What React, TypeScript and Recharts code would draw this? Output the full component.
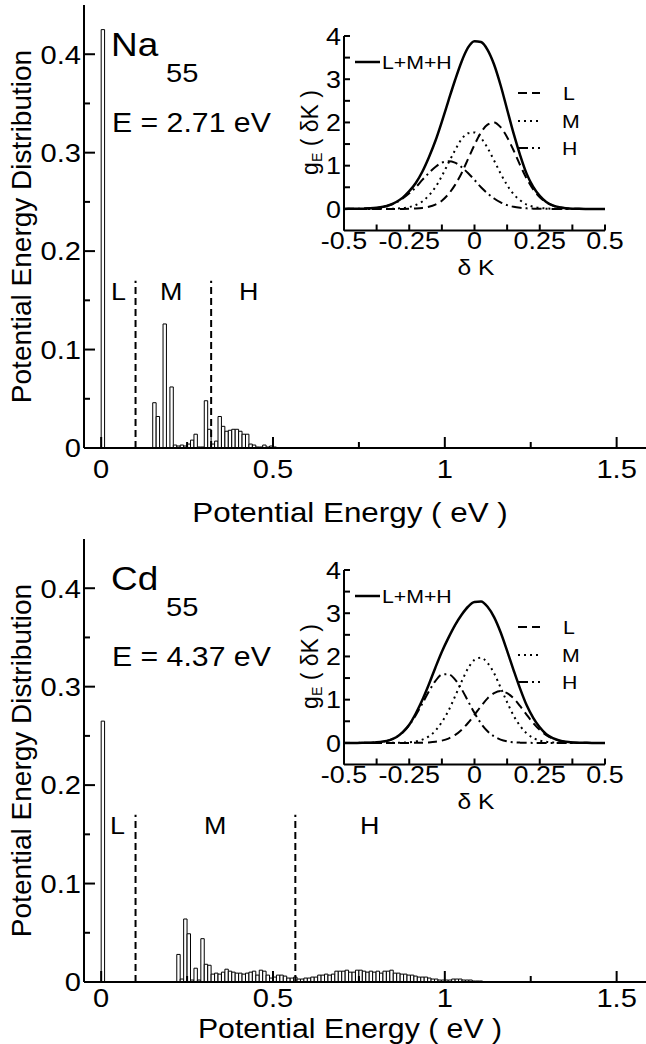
import React from 'react';
import { ComposedChart, LineChart, Bar, Line, XAxis, YAxis, ReferenceLine, Legend } from 'recharts';

const FONT = '"Liberation Sans", Arial, Helvetica, sans-serif';
const SX = 1.12; // the printed figure is stretched sideways a little

// Na55 histogram: bin centres (eV) and heights
const naEnergy = [0.005, 0.155, 0.165, 0.175, 0.185, 0.195, 0.205, 0.215, 0.225, 0.235, 0.245, 0.255, 0.265, 0.275, 0.285, 0.295, 0.305, 0.315, 0.325, 0.335, 0.345, 0.355, 0.365, 0.375, 0.385, 0.395, 0.405, 0.415, 0.425, 0.435, 0.445, 0.455, 0.465, 0.475, 0.485, 0.495, 0.505];
const naDist = [0.425, 0.046, 0.032, 0, 0.126, 0, 0.062, 0.003, 0.002, 0.003, 0.002, 0.004, 0.008, 0.014, 0.001, 0.001, 0.048, 0.019, 0.004, 0.007, 0.032, 0.022, 0.017, 0.018, 0.019, 0.019, 0.017, 0.014, 0.014, 0.004, 0.003, 0.001, 0.001, 0.003, 0.001, 0.002, 0.001];

// Cd55 histogram
const cdEnergy = [0.005,
  0.225, 0.235, 0.245, 0.255, 0.265, 0.275, 0.285, 0.295, 0.305, 0.315,
  0.325, 0.335, 0.345, 0.355, 0.365, 0.375, 0.385, 0.395, 0.405, 0.415,
  0.425, 0.435, 0.445, 0.455, 0.465, 0.475, 0.485, 0.495, 0.505, 0.515,
  0.525, 0.535, 0.545, 0.555, 0.565, 0.575, 0.585, 0.595, 0.605, 0.615,
  0.625, 0.635, 0.645, 0.655, 0.665, 0.675, 0.685, 0.695, 0.705, 0.715,
  0.725, 0.735, 0.745, 0.755, 0.765, 0.775, 0.785, 0.795, 0.805, 0.815,
  0.825, 0.835, 0.845, 0.855, 0.865, 0.875, 0.885, 0.895, 0.905, 0.915,
  0.925, 0.935, 0.945, 0.955, 0.965, 0.975, 0.985, 0.995, 1.005, 1.015,
  1.025, 1.035, 1.045, 1.055, 1.065, 1.075, 1.085, 1.095, 1.105];
const cdDist = [0.265,
  0.028, 0.003, 0.064, 0.049, 0.002, 0.014, 0.002, 0.044, 0.018, 0.017,
  0.008, 0.009, 0.008, 0.010, 0.013, 0.011, 0.010, 0.009, 0.009, 0.008,
  0.009, 0.010, 0.011, 0.007, 0.012, 0.011, 0.007, 0.004, 0.005, 0.007,
  0.007, 0.006, 0.004, 0.004, 0.005, 0.003, 0.003, 0.004, 0.004, 0.005,
  0.005, 0.007, 0.007, 0.008, 0.007, 0.008, 0.011, 0.011, 0.011, 0.012,
  0.010, 0.010, 0.012, 0.012, 0.011, 0.010, 0.011, 0.010, 0.011, 0.009,
  0.011, 0.011, 0.012, 0.009, 0.009, 0.008, 0.008, 0.007, 0.007, 0.006,
  0.005, 0.005, 0.005, 0.004, 0.003, 0.003, 0.002, 0.002, 0.002, 0.002,
  0.003, 0.003, 0.003, 0.002, 0.002, 0.002, 0.001, 0.001, 0.001];

// insets: g_E(dK)
const deltaK = [-0.5, -0.475, -0.45, -0.425, -0.4, -0.375, -0.35, -0.325, -0.3, -0.275, -0.25, -0.225, -0.2, -0.175, -0.15, -0.125, -0.1, -0.075, -0.05, -0.025, 0, 0.025, 0.05, 0.075, 0.1, 0.125, 0.15, 0.175, 0.2, 0.225, 0.25, 0.275, 0.3, 0.325, 0.35, 0.375, 0.4, 0.425, 0.45, 0.475, 0.5];

const naSum = [0, 0.001, 0.002, 0.006, 0.012, 0.025, 0.049, 0.091, 0.16, 0.26, 0.41, 0.6, 0.86, 1.19, 1.57, 2.02, 2.5, 2.97, 3.4, 3.73, 3.88, 3.86, 3.68, 3.34, 2.86, 2.3, 1.74, 1.24, 0.81, 0.51, 0.3, 0.16, 0.08, 0.037, 0.016, 0.006, 0.002, 0, 0, 0, 0];
const naL = [0, 0, 0, 0, 0, 0, 0, 0, 0, 0, 0.003, 0.009, 0.022, 0.049, 0.1, 0.19, 0.34, 0.55, 0.82, 1.15, 1.48, 1.77, 1.95, 2.0, 1.89, 1.66, 1.35, 1.01, 0.7, 0.45, 0.27, 0.15, 0.076, 0.036, 0.016, 0.006, 0.002, 0, 0, 0, 0];
const naM = [0, 0, 0, 0, 0, 0, 0.001, 0.003, 0.008, 0.019, 0.043, 0.09, 0.17, 0.31, 0.5, 0.76, 1.06, 1.35, 1.61, 1.75, 1.77, 1.64, 1.41, 1.12, 0.82, 0.55, 0.34, 0.2, 0.1, 0.05, 0.023, 0.009, 0.004, 0.001, 0, 0, 0, 0, 0, 0, 0];
const naH = [0, 0.001, 0.002, 0.006, 0.012, 0.025, 0.048, 0.088, 0.15, 0.24, 0.36, 0.5, 0.67, 0.83, 0.97, 1.07, 1.1, 1.07, 0.97, 0.83, 0.67, 0.5, 0.36, 0.24, 0.15, 0.088, 0.048, 0.025, 0.012, 0.006, 0.002, 0.001, 0, 0, 0, 0, 0, 0, 0, 0, 0];

const cdSum = [0, 0, 0, 0.002, 0.005, 0.012, 0.03, 0.065, 0.13, 0.25, 0.42, 0.68, 0.99, 1.35, 1.74, 2.11, 2.43, 2.72, 2.96, 3.15, 3.26, 3.27, 3.15, 2.91, 2.56, 2.13, 1.68, 1.25, 0.87, 0.58, 0.36, 0.2, 0.11, 0.057, 0.026, 0.011, 0.005, 0.002, 0, 0, 0];
const cdL = [0, 0, 0, 0, 0, 0, 0, 0, 0, 0, 0, 0.002, 0.005, 0.011, 0.025, 0.053, 0.1, 0.18, 0.3, 0.46, 0.65, 0.85, 1.03, 1.15, 1.2, 1.15, 1.03, 0.85, 0.65, 0.46, 0.3, 0.18, 0.1, 0.053, 0.025, 0.011, 0.005, 0.002, 0, 0, 0];
const cdM = [0, 0, 0, 0, 0, 0, 0, 0, 0.002, 0.006, 0.014, 0.034, 0.075, 0.15, 0.28, 0.48, 0.74, 1.07, 1.41, 1.72, 1.92, 1.97, 1.85, 1.61, 1.28, 0.94, 0.63, 0.39, 0.22, 0.115, 0.055, 0.024, 0.01, 0.004, 0.001, 0, 0, 0, 0, 0, 0];
const cdH = [0, 0, 0, 0.002, 0.005, 0.012, 0.03, 0.065, 0.13, 0.24, 0.41, 0.64, 0.91, 1.19, 1.43, 1.58, 1.59, 1.47, 1.25, 0.97, 0.69, 0.45, 0.27, 0.15, 0.076, 0.035, 0.015, 0.006, 0.002, 0, 0, 0, 0, 0, 0, 0, 0, 0, 0, 0, 0];

const energyTicks = [0, 0.25, 0.5, 0.75, 1, 1.25, 1.5];
const distTicks = [0, 0.05, 0.1, 0.15, 0.2, 0.25, 0.3, 0.35, 0.4];
const dkTicks = [-0.5, -0.375, -0.25, -0.125, 0, 0.125, 0.25, 0.375, 0.5];
const gTicks = [0, 0.5, 1, 1.5, 2, 2.5, 3, 3.5, 4];

const insetSeries = [
  { key: 'sum', name: 'L+M+H', dash: undefined, width: 2.5 },
  { key: 'l', name: 'L', dash: '9 5', width: 2 },
  { key: 'm', name: 'M', dash: '2 4', width: 2 },
  { key: 'h', name: 'H', dash: '10 4 2 4', width: 2 },
];
// legend spots in inset-chart pixels (inset chart sits at left 280, top 20)
const legendSpots = [
  { x: 75, w: 25, y: 42, tx: 102 },
  { x: 238, w: 22, y: 73, tx: 283 },
  { x: 238, w: 22, y: 101, tx: 282 },
  { x: 238, w: 22, y: 128, tx: 282 },
];

const near = (v: number, step: number) => Math.abs(v / step - Math.round(v / step)) < 1e-6;

function SText({ x, y, size, anchor = 'start', children }: any) {
  return (
    <text transform={`translate(${x},${y}) scale(${SX},1)`} fontSize={size} fontFamily={FONT} textAnchor={anchor} fill="#000">
      {children}
    </text>
  );
}

// inward tick marks on each side of a frame; labels only on bottom / left
function frameTick(side: string, major: (v: number) => boolean, long: number, short: number, fmt?: (v: number) => string, size = 0, gap = 0) {
  return (props: any) => {
    const { x, y, payload } = props;
    const v = payload.value;
    const len = major(v) ? long : short;
    const dx = side === 'left' ? len : side === 'right' ? -len : 0;
    const dy = side === 'bottom' ? -len : side === 'top' ? len : 0;
    return (
      <g>
        <line x1={x} y1={y} x2={x + dx} y2={y + dy} stroke="#000" strokeWidth={2} />
        {fmt && major(v) && side === 'bottom' && <SText x={x} y={y + gap} size={size} anchor="middle">{fmt(v)}</SText>}
        {fmt && major(v) && side === 'left' && <SText x={x - gap} y={y + size * 0.36} size={size} anchor="end">{fmt(v)}</SText>}
      </g>
    );
  };
}

const mainTop = frameTick('top', v => near(v, 0.5), 11, 6);
const mainLeft = frameTick('left', v => near(v, 0.1), 11, 6, v => (v === 0 ? '0' : v.toFixed(1)), 26, 3);
const mainRight = frameTick('right', v => near(v, 0.1), 11, 6);
const inBottom = frameTick('bottom', v => near(v, 0.25), 6, 6, v => String(v), 24, 18);
const inTop = frameTick('top', () => true, 6, 6);
const inLeft = frameTick('left', v => near(v, 1), 6, 6, v => String(v), 24, 3);
const inRight = frameTick('right', () => true, 6, 6);

const frameLine = { stroke: '#000', strokeWidth: 2 };
const xDom: [number, number] = [-0.05, 1.6];

function Histogram({ energy, dist, cut, titleY, titleSize, tickGap }: { energy: number[]; dist: number[]; cut: number; titleY: number; titleSize: number; tickGap: number }) {
  const rows = energy.map((e, i) => ({ e, d: dist[i] }));
  const mainBottom = frameTick('bottom', v => near(v, 0.5), 11, 6, v => String(v), 26, tickGap);
  return (
    <ComposedChart width={680} height={534} data={rows} margin={{ top: 5, right: 29, bottom: 0, left: 0 }}>
      <XAxis xAxisId="b" dataKey="e" type="number" domain={xDom} allowDataOverflow ticks={energyTicks} interval={0}
        height={86} tickSize={0} tickMargin={0} tickLine={false} axisLine={frameLine} tick={mainBottom}
        label={() => <SText x={350} y={titleY} size={titleSize} anchor="middle">Potential Energy ( eV )</SText>} />
      <XAxis xAxisId="t" orientation="top" dataKey="e" type="number" domain={xDom} allowDataOverflow ticks={energyTicks}
        interval={0} height={0} tickSize={0} tickMargin={0} tickLine={false} axisLine={frameLine} tick={mainTop} />
      <YAxis yAxisId="l" type="number" domain={[0, 0.45]} allowDataOverflow ticks={distTicks} interval={0} width={84}
        tickSize={0} tickMargin={0} tickLine={false} axisLine={frameLine} tick={mainLeft}
        label={() => (
          <text transform="translate(31,226.5) rotate(-90)" textAnchor="middle" fontSize={28} fontFamily={FONT} fill="#000">
            Potential Energy Distribution
          </text>
        )} />
      <YAxis yAxisId="r" orientation="right" type="number" domain={[0, 0.45]} allowDataOverflow ticks={distTicks}
        interval={0} width={0} tickSize={0} tickMargin={0} tickLine={false} axisLine={frameLine} tick={mainRight} />
      <Bar xAxisId="b" yAxisId="l" dataKey="d" fill="#fff" stroke="#000" strokeWidth={1} barSize={3.4} isAnimationActive={false} />
      <ReferenceLine xAxisId="b" yAxisId="l" segment={[{ x: 0.1, y: 0 }, { x: 0.1, y: 0.17 }]} stroke="#000" strokeWidth={2} strokeDasharray="7 4" />
      <ReferenceLine xAxisId="b" yAxisId="l" segment={[{ x: cut, y: 0 }, { x: cut, y: 0.17 }]} stroke="#000" strokeWidth={2} strokeDasharray="7 4" />
    </ComposedChart>
  );
}

function InsetLegend() {
  return (
    <svg width={360} height={270}>
      {insetSeries.map((s, i) => {
        const p = legendSpots[i];
        return (
          <g key={s.key}>
            <line x1={p.x} x2={p.x + p.w} y1={p.y} y2={p.y} stroke="#000" strokeWidth={s.width} strokeDasharray={s.dash} />
            <SText x={p.tx} y={p.y + 7} size={19}>{s.name}</SText>
          </g>
        );
      })}
    </svg>
  );
}

function Inset({ sum, l, m, h }: { sum: number[]; l: number[]; m: number[]; h: number[] }) {
  const rows = deltaK.map((k, i) => ({ k, sum: sum[i], l: l[i], m: m[i], h: h[i] }));
  return (
    <LineChart width={360} height={270} data={rows} margin={{ top: 16, right: 35, bottom: 0, left: 0 }}>
      <XAxis xAxisId="b" dataKey="k" type="number" domain={[-0.5, 0.5]} allowDataOverflow ticks={dkTicks} interval={0}
        height={59.5} tickSize={0} tickMargin={0} tickLine={false} axisLine={frameLine} tick={inBottom}
        label={() => <SText x={196} y={255} size={22} anchor="middle">δ K</SText>} />
      <XAxis xAxisId="t" orientation="top" dataKey="k" type="number" domain={[-0.5, 0.5]} allowDataOverflow ticks={dkTicks}
        interval={0} height={0} tickSize={0} tickMargin={0} tickLine={false} axisLine={frameLine} tick={inTop} />
      <YAxis yAxisId="l" type="number" domain={[-0.5, 4]} allowDataOverflow ticks={gTicks} interval={0} width={64}
        tickSize={0} tickMargin={0} tickLine={false} axisLine={frameLine} tick={inLeft}
        label={() => (
          <text transform="translate(38,112.5) rotate(-90)" textAnchor="middle" fontSize={23} fontFamily={FONT} fill="#000">
            g<tspan fontSize={14} dy={4}>E</tspan><tspan dy={-4}>{'\u00a0( δK )'}</tspan>
          </text>
        )} />
      <YAxis yAxisId="r" orientation="right" type="number" domain={[-0.5, 4]} allowDataOverflow ticks={gTicks}
        interval={0} width={0} tickSize={0} tickMargin={0} tickLine={false} axisLine={frameLine} tick={inRight} />
      <Legend content={() => <InsetLegend />} layout="vertical" align="center" verticalAlign="middle"
        wrapperStyle={{ position: 'absolute', left: 0, top: 0, width: 360, height: 270, pointerEvents: 'none' }} />
      {insetSeries.map(s => (
        <Line key={s.key} xAxisId="b" yAxisId="l" type="monotone" dataKey={s.key} name={s.name} stroke="#000"
          strokeWidth={s.width} strokeDasharray={s.dash} dot={false} isAnimationActive={false} />
      ))}
    </LineChart>
  );
}

function Notes({ el, energyText, regions }: { el: string; energyText: string; regions: { t: string; x: number }[] }) {
  return (
    <svg width={646} height={534} style={{ position: 'absolute', left: 0, top: 0, pointerEvents: 'none' }}>
      <SText x={111} y={56} size={33}>{el}</SText>
      <SText x={166} y={82} size={26}>55</SText>
      <SText x={112} y={132} size={27}>{energyText}</SText>
      {regions.map(r => <SText key={r.t} x={r.x} y={300} size={24}>{r.t}</SText>)}
    </svg>
  );
}

function Panel(props: any) {
  return (
    <div style={{ position: 'absolute', left: 0, top: props.top, width: 680, height: 534 }}>
      <div style={{ position: 'absolute', left: 0, top: 0 }}>
        <Histogram energy={props.energy} dist={props.dist} cut={props.cut} titleY={props.titleY} titleSize={props.titleSize} tickGap={props.tickGap} />
      </div>
      <div style={{ position: 'absolute', left: 280, top: 20 }}>
        <Inset sum={props.sum} l={props.l} m={props.m} h={props.h} />
      </div>
      <Notes el={props.el} energyText={props.energyText} regions={props.regions} />
    </div>
  );
}

export default function App() {
  return (
    <div style={{ position: 'absolute', left: 0, top: 0, width: 646, height: 1044, overflow: 'hidden', background: '#fff' }}>
      <Panel top={0} energy={naEnergy} dist={naDist} cut={0.32} sum={naSum} l={naL} m={naM} h={naH}
        titleY={522} titleSize={28} tickGap={30}
        el="Na" energyText="E = 2.71 eV" regions={[{ t: 'L', x: 111 }, { t: 'M', x: 160 }, { t: 'H', x: 239 }]} />
      <Panel top={534} energy={cdEnergy} dist={cdDist} cut={0.565} sum={cdSum} l={cdL} m={cdM} h={cdH}
        titleY={504} titleSize={27} tickGap={25}
        el="Cd" energyText="E = 4.37 eV" regions={[{ t: 'L', x: 110 }, { t: 'M', x: 204 }, { t: 'H', x: 360 }]} />
    </div>
  );
}
